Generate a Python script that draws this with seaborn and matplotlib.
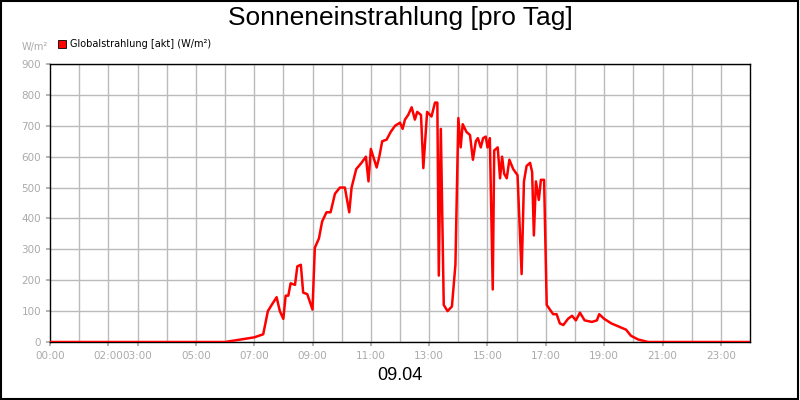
import matplotlib
matplotlib.use("Agg")
import matplotlib.pyplot as plt
import seaborn as sns
import pandas as pd
from matplotlib.patches import Rectangle

hours = [0, 6.0, 7.0, 7.31, 7.47, 7.6, 7.77, 7.88, 8.0, 8.08, 8.17, 8.25, 8.4, 8.48, 8.6, 8.68, 8.82, 9.0,
         9.08, 9.22, 9.33, 9.48, 9.62, 9.77, 9.94, 10.11, 10.26, 10.34, 10.5, 10.68, 10.83, 10.92, 11.0,
         11.2, 11.29, 11.39, 11.54, 11.68, 11.83, 12.0, 12.09, 12.17, 12.28, 12.4, 12.51, 12.59, 12.72,
         12.8, 12.93, 13.08, 13.2, 13.28, 13.33, 13.4, 13.5, 13.63, 13.78, 13.9, 14.0, 14.08, 14.15,
         14.28, 14.4, 14.5, 14.6, 14.67, 14.77, 14.85, 14.94, 15.0, 15.08, 15.18, 15.23, 15.35, 15.43,
         15.5, 15.57, 15.66, 15.75, 15.88, 16.03, 16.17, 16.25, 16.34, 16.46, 16.53, 16.59, 16.66,
         16.76, 16.83, 16.94, 17.03, 17.25, 17.37, 17.48, 17.6, 17.76, 17.9, 18.03, 18.17, 18.33,
         18.58, 18.75, 18.83, 19.0, 19.25, 19.5, 19.75, 19.92, 20.17, 20.42, 20.5, 24.0]
values = [0, 0, 15, 25, 100, 120, 145, 100, 75, 150, 150, 190, 185, 245, 250, 160, 155, 105,
          305, 335, 390, 420, 420, 480, 500, 500, 420, 500, 560, 580, 600, 520, 625,
          565, 600, 650, 655, 680, 700, 710, 690, 720, 735, 760, 720, 745, 735,
          563, 745, 730, 775, 775, 215, 690, 120, 100, 115, 250, 725, 630, 705,
          680, 670, 590, 650, 660, 630, 660, 665, 630, 660, 170, 620, 630, 530,
          600, 545, 530, 590, 560, 540, 220, 520, 570, 580, 550, 345, 520,
          460, 525, 525, 120, 90, 90, 60, 55, 75, 85, 70, 95, 70,
          65, 70, 90, 75, 60, 50, 40, 20, 8, 2, 0, 0]
tick_hours = [0, 2, 3, 5, 7, 9, 11, 13, 15, 17, 19, 21, 23]
tick_labels = ["00:00", "02:00", "03:00", "05:00", "07:00", "09:00", "11:00", "13:00",
               "15:00", "17:00", "19:00", "21:00", "23:00"]
y_ticks = list(range(0, 901, 100))

sns.set_theme(style="white")
fig = plt.figure(figsize=(8, 4), dpi=100)
ax = fig.add_axes([50/800, 58/400, 700/800, 278/400])
df = pd.DataFrame({"h": hours, "v": values})
sns.lineplot(data=df, x="h", y="v", color="#ff0000", linewidth=1.8, ax=ax, zorder=3)
ax.set_xlim(0, 24)
ax.set_ylim(0, 900)
for h in range(1, 24):
    ax.axvline(h, color="#bbbbbb", linewidth=1, zorder=1)
ax.set_xticks(tick_hours)
ax.set_xticklabels(tick_labels)
ax.set_yticks(y_ticks)
ax.set_yticklabels([str(t) for t in y_ticks])
ax.grid(True, axis="y", color="#bbbbbb", linewidth=1)
ax.tick_params(colors="#aaaaaa", labelcolor="#aaaaaa", labelsize=7.5, length=3, direction="out",
               bottom=True, left=True)
ax.set_xlabel("")
ax.set_ylabel("")
for s in ax.spines.values():
    s.set_color("black")
    s.set_linewidth(1)

fig.text(0.5, 0.955, "Sonneneinstrahlung [pro Tag]", ha="center", va="center", fontsize=19,
         family="Liberation Sans", color="black")
fig.text(0.5, 0.06, "09.04", ha="center", va="center", fontsize=13, family="Liberation Sans", color="black")
fig.text(22/800, 1 - 47/400, "W/m²", ha="left", va="center", fontsize=7, color="#aaaaaa")
fig.patches.append(Rectangle((58/800, 1 - 48/400), 8/800, 8/400, transform=fig.transFigure,
                             facecolor="#ff0000", edgecolor="black", linewidth=0.6))
fig.text(70/800, 1 - 44/400, "Globalstrahlung [akt] (W/m²)", ha="left", va="center", fontsize=7, color="black")
fig.patches.append(Rectangle((0.001, 0.002), 0.997, 0.996, transform=fig.transFigure,
                             fill=False, edgecolor="black", linewidth=1.5))
fig.savefig("out.png", dpi=100)
